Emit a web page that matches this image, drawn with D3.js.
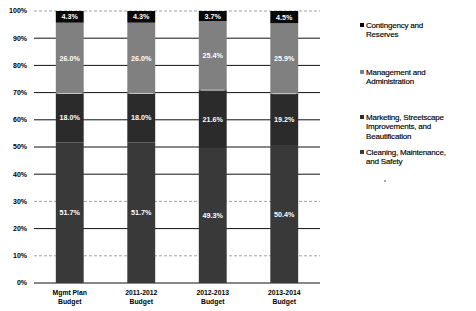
<!DOCTYPE html>
<html><head><meta charset="utf-8">
<script src="https://cdn.jsdelivr.net/npm/d3@7"></script>
<style>body{margin:0;background:#fff}svg{display:block}</style>
</head><body>
<svg id="c" width="476" height="311"></svg>
<script>
const categories = [["Mgmt Plan","Budget"],["2011-2012","Budget"],["2012-2013","Budget"],["2013-2014","Budget"]];
const seriesNames = ["Cleaning, Maintenance, and Safety","Marketing, Streetscape Improvements, and Beautification","Management and Administration","Contingency and Reserves"];
const cleaning = [51.7, 51.7, 49.3, 50.4];
const marketing = [18.0, 18.0, 21.6, 19.2];
const management = [26.0, 26.0, 25.4, 25.9];
const contingency = [4.3, 4.3, 3.7, 4.5];
const yTicks = [0,10,20,30,40,50,60,70,80,90,100];
const legendLines = [["Contingency and","Reserves"],["Management and","Administration"],["Marketing, Streetscape","Improvements, and","Beautification"],["Cleaning, Maintenance,","and Safety"]];
const colors = ["#393939","#2b2b2b","#808080","#080808"];

const svg = d3.select("#c");
const x = d3.scaleBand().domain(d3.range(categories.length)).range([34,320]).paddingInner(0.61).paddingOuter(0.305);
const y = d3.scaleLinear().domain([0,100]).range([283,11]);

const faint = new Set([100,30,10]);
svg.append("g").selectAll("line").data(yTicks).join("line")
  .attr("x1",34).attr("x2",320).attr("y1",d=>y(d)).attr("y2",d=>y(d))
  .attr("stroke",d=>faint.has(d)?"#888":"#111")
  .attr("stroke-width",d=>faint.has(d)?0.8:1)
  .attr("stroke-dasharray",d=>faint.has(d)?"3,2":null);

svg.append("g").selectAll("text").data(yTicks).join("text")
  .attr("x",27).attr("y",d=>y(d)).attr("dy","0.35em").attr("text-anchor","end")
  .attr("font-family","Liberation Sans, Arial, sans-serif").attr("font-weight","bold")
  .attr("font-size",7).attr("fill","#000").text(d=>d+"%");

const data = categories.map((c,i)=>({i, vals:[cleaning[i],marketing[i],management[i],contingency[i]]}));
const stack = d3.stack().keys([0,1,2,3]).value((d,k)=>d.vals[k]);
const series = stack(data);

const g = svg.append("g");
series.forEach((s,k)=>{
  g.selectAll(null).data(s).join("rect")
    .attr("x",d=>x(d.data.i)).attr("width",x.bandwidth())
    .attr("y",d=>y(d[1])).attr("height",d=>y(d[0])-y(d[1]))
    .attr("fill",colors[k]);
});
g.selectAll(null).data(series[1]).join("line")
  .attr("x1",d=>x(d.data.i)+2).attr("x2",d=>x(d.data.i)+x.bandwidth()-2)
  .attr("y1",d=>y(d[1])).attr("y2",d=>y(d[1]))
  .attr("stroke","#ddd").attr("stroke-width",0.8);
series.forEach((s,k)=>{
  g.selectAll(null).data(s).join("text")
    .attr("x",d=>x(d.data.i)+x.bandwidth()/2).attr("y",d=>y((d[0]+d[1])/2)).attr("dy","0.35em")
    .attr("text-anchor","middle").attr("fill","#fff")
    .attr("font-family","Liberation Sans, Arial, sans-serif").attr("font-weight","bold").attr("font-size",7.2)
    .text(d=>d.data.vals[k].toFixed(1)+"%");
});

const xl = svg.append("g");
categories.forEach((c,i)=>{
  c.forEach((t,j)=>{
    xl.append("text").attr("x",x(i)+x.bandwidth()/2).attr("y",295+j*8.5)
      .attr("text-anchor","middle").attr("font-family","Liberation Sans, Arial, sans-serif")
      .attr("font-weight","bold").attr("font-size",6.8).attr("fill","#000").text(t);
  });
});

const legendY = [25,72,117,152];
const legendColors = [colors[3],colors[2],colors[1],colors[0]];
const lg = svg.append("g");
legendLines.forEach((lines,i)=>{
  lg.append("rect").attr("x",360).attr("y",legendY[i]-2).attr("width",4).attr("height",4).attr("fill",legendColors[i]);
  lines.forEach((t,j)=>{
    lg.append("text").attr("x",366).attr("y",legendY[i]+j*9.5).attr("dy","0.35em")
      .attr("font-family","Liberation Sans, Arial, sans-serif").attr("font-size",8)
      .attr("letter-spacing",-0.2).attr("fill","#000")
      .attr("stroke","#000").attr("stroke-width",0.15).text(t);
  });
});
svg.append("circle").attr("cx",385).attr("cy",181).attr("r",0.8).attr("fill","#333");
</script>
</body></html>
